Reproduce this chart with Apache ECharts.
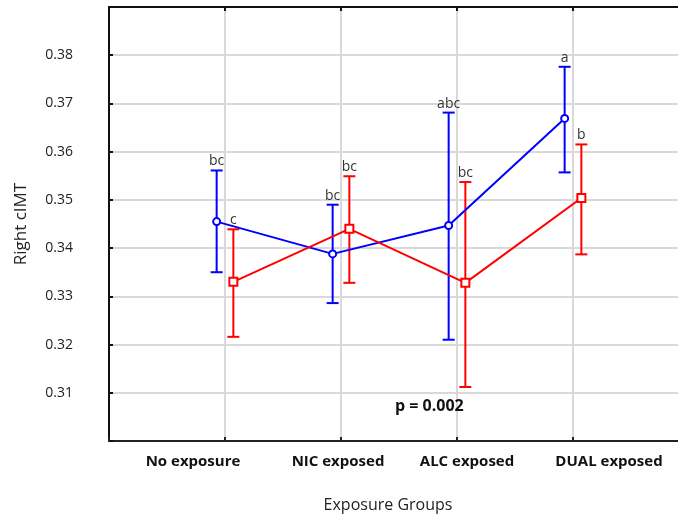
<!DOCTYPE html>
<html>
<head>
<meta charset="utf-8">
<script src="https://cdn.jsdelivr.net/npm/echarts@6/dist/echarts.min.js"></script>
<style>html,body{margin:0;padding:0;background:#fff;}#c{width:678px;height:515px;}</style>
</head>
<body>
<div id="c"></div>
<script>
// ---- data ----
var categories = ['No exposure', 'NIC exposed', 'ALC exposed', 'DUAL exposed'];
var yTicks = [0.31, 0.32, 0.33, 0.34, 0.35, 0.36, 0.37, 0.38];
var blueMean = [0.3455, 0.3388, 0.3447, 0.3669];
var blueLow  = [0.3350, 0.3286, 0.3210, 0.3557];
var blueHigh = [0.3561, 0.3490, 0.3681, 0.3776];
var blueLetters = ['bc', 'bc', 'abc', 'a'];
var redMean = [0.3330, 0.3440, 0.3328, 0.3504];
var redLow  = [0.3216, 0.3328, 0.3112, 0.3387];
var redHigh = [0.3439, 0.3549, 0.3537, 0.3615];
var redLetters = ['c', 'bc', 'bc', 'b'];
var pText = 'p = 0.002';

// ---- layout / style ----
var OFF = 0.072;            // horizontal offset of each group from the category line
var labelShift = [-32, -3, 10, 36];
var BLUE = '#0000ff', RED = '#ff0000';
var FONT = '"Open Sans", "DejaVu Sans", sans-serif';

function pts(mean, dx) { return mean.map(function (v, i) { return [i + 1 + dx, v]; }); }
function errs(low, high, letters, dx) {
  return low.map(function (l, i) { return [i + 1 + dx, l, high[i], letters[i]]; });
}
function errSeries(data, color) {
  return {
    type: 'custom', z: 3,
    data: data,
    renderItem: function (params, api) {
      var x = api.value(0);
      var lo = api.coord([x, api.value(1)]);
      var hi = api.coord([x, api.value(2)]);
      var w = 6;
      var st = { stroke: color, lineWidth: 2 };
      return {
        type: 'group',
        children: [
          { type: 'line', shape: { x1: lo[0], y1: lo[1], x2: hi[0], y2: hi[1] }, style: st },
          { type: 'line', shape: { x1: lo[0] - w, y1: lo[1], x2: lo[0] + w, y2: lo[1] }, style: st },
          { type: 'line', shape: { x1: hi[0] - w, y1: hi[1], x2: hi[0] + w, y2: hi[1] }, style: st },
          { type: 'text', x: hi[0], y: hi[1] - 2,
            style: { text: data[params.dataIndex][3], fill: '#333', font: '14px ' + FONT,
                     align: 'center', verticalAlign: 'bottom' } }
        ]
      };
    }
  };
}

var rich = {};
categories.forEach(function (c, i) {
  var s = labelShift[i];
  rich['l' + i] = {
    fontFamily: FONT, fontWeight: 'bold', fontSize: 15, color: '#111',
    padding: s < 0 ? [0, -2 * s, 0, 0] : [0, 0, 0, 2 * s]
  };
});

var chart = echarts.init(document.getElementById('c'));
chart.setOption({
  backgroundColor: '#fff',
  animation: false,
  grid: { left: 109, top: 7, width: 580, height: 434, containLabel: false, outerBoundsMode: 'none' },
  xAxis: [{
    type: 'value', min: 0, max: 5, interval: 1, position: 'bottom',
    axisLine: { show: true, onZero: false, lineStyle: { color: '#222', width: 2 } },
    axisTick: { show: true, inside: true, length: 4, lineStyle: { color: '#222', width: 2 } },
    splitLine: { show: true, lineStyle: { color: '#d9d9d9', width: 2 } },
    axisLabel: {
      margin: 13,
      formatter: function (v) {
        var i = Math.round(v) - 1;
        if (i < 0 || i >= categories.length) return '';
        return '{l' + i + '|' + categories[i] + '}';
      },
      rich: rich
    },
    name: 'Exposure Groups', nameLocation: 'middle', nameGap: 56,
    nameTextStyle: { fontFamily: FONT, fontSize: 16, color: '#222', padding: [0, 22, 0, 0] }
  }, {
    type: 'value', min: 0, max: 5, interval: 1, position: 'top',
    axisLine: { show: true, onZero: false, lineStyle: { color: '#111', width: 2 } },
    axisTick: { show: true, inside: true, length: 4, lineStyle: { color: '#111', width: 2 } },
    splitLine: { show: false }, axisLabel: { show: false }
  }],
  yAxis: {
    type: 'value', min: 0.30, max: 0.39, interval: 0.01,
    axisLine: { show: true, onZero: false, lineStyle: { color: '#111', width: 2 } },
    axisTick: { show: true, inside: true, length: 4, lineStyle: { color: '#111', width: 2 } },
    splitLine: { show: true, lineStyle: { color: '#d9d9d9', width: 2 } },
    axisLabel: {
      margin: 36, fontFamily: FONT, fontSize: 14, color: '#222',
      formatter: function (v) {
        for (var k = 0; k < yTicks.length; k++) if (Math.abs(yTicks[k] - v) < 1e-6) return yTicks[k].toFixed(2);
        return '';
      }
    },
    name: 'Right cIMT', nameLocation: 'middle', nameGap: 79, nameRotate: 90,
    nameTextStyle: { fontFamily: FONT, fontSize: 17, color: '#222' }
  },
  series: [
    errSeries(errs(blueLow, blueHigh, blueLetters, -OFF), BLUE),
    errSeries(errs(redLow, redHigh, redLetters, OFF), RED),
    {
      type: 'line', z: 4, data: pts(blueMean, -OFF),
      symbol: 'circle', symbolSize: 7,
      itemStyle: { color: '#fff', borderColor: BLUE, borderWidth: 2 },
      lineStyle: { color: BLUE, width: 2 }
    },
    {
      type: 'line', z: 4, data: pts(redMean, OFF),
      symbol: 'rect', symbolSize: 8,
      itemStyle: { color: '#fff', borderColor: RED, borderWidth: 2 },
      lineStyle: { color: RED, width: 2 }
    }
  ],
  graphic: [{
    type: 'text', left: 395, top: 398, z: 100,
    style: { text: pText, font: 'bold 16px ' + FONT, fill: '#111' }
  }]
});
</script>
</body>
</html>
